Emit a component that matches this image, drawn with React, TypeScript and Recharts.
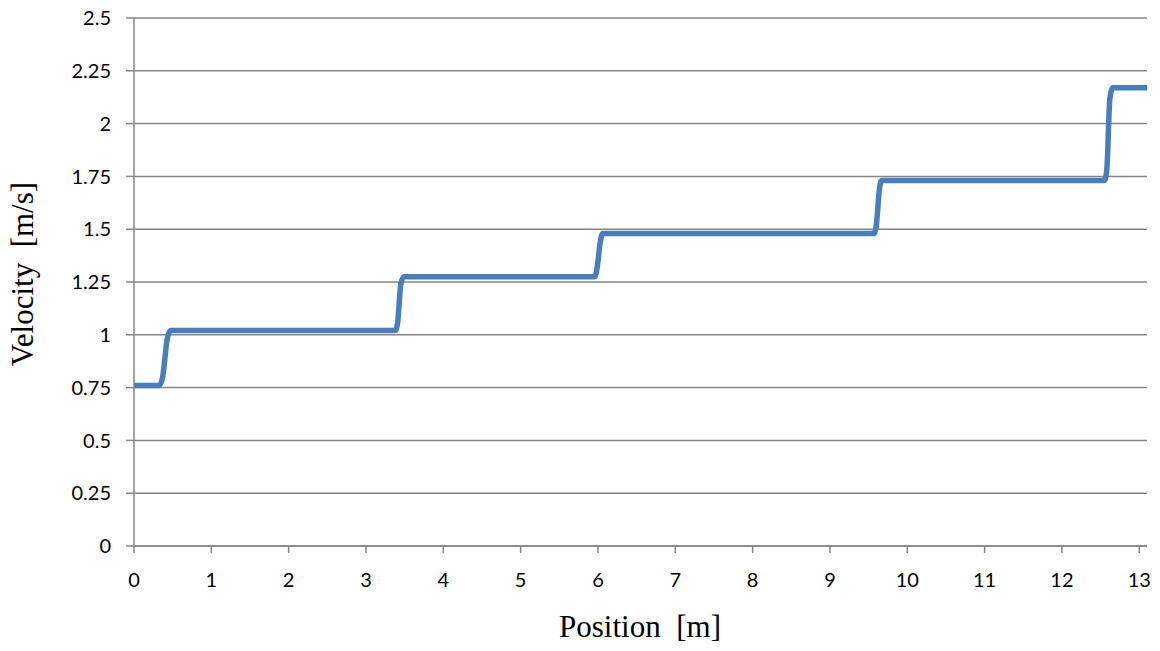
import { LineChart, Line, XAxis, YAxis, CartesianGrid } from "recharts";

const positions = [
  0, 0.33, 0.37, 0.43, 0.47,
  3.38, 3.41, 3.45, 3.49,
  5.96, 5.99, 6.03, 6.06,
  9.57, 9.6, 9.64, 9.67,
  12.55, 12.58, 12.62, 12.66, 13.1,
];
const velocities = [
  0.76, 0.76, 0.8, 0.98, 1.02,
  1.02, 1.06, 1.24, 1.275,
  1.275, 1.32, 1.44, 1.48,
  1.48, 1.52, 1.69, 1.73,
  1.73, 1.78, 2.12, 2.17, 2.17,
];
const xTicks = [0, 1, 2, 3, 4, 5, 6, 7, 8, 9, 10, 11, 12, 13];
const yTicks = [0, 0.25, 0.5, 0.75, 1, 1.25, 1.5, 1.75, 2, 2.25, 2.5];

const data = positions.map((x, i) => ({ x, v: velocities[i] }));

const BLUE = "#4A7EBB";
const GREY = "#868686";
const TICK_FONT = { fill: "#000", fontSize: 20, fontFamily: "Lato, 'Open Sans', sans-serif" };
const TITLE_FONT = "'Liberation Serif', 'Times New Roman', serif";

export default function App() {
  return (
    <div style={{ position: "absolute", left: 0, top: 0, background: "#fff" }}>
      <LineChart
        width={1160}
        height={651}
        data={data}
        margin={{ top: 18, right: 13, bottom: 0, left: 0 }}
      >
        <CartesianGrid stroke={GREY} strokeWidth={1.5} vertical={false} />
        <XAxis
          dataKey="x"
          type="number"
          domain={[0, 13.1]}
          ticks={xTicks}
          allowDataOverflow
          height={105}
          tick={TICK_FONT}
          tickSize={7}
          tickMargin={20}
          stroke={GREY}
          strokeWidth={1.5}
          label={{
            content: () => (
              <text
                x={640}
                y={637}
                textAnchor="middle"
                fontFamily={TITLE_FONT}
                fontSize={31}
                fill="#000"
                style={{ whiteSpace: "pre" }}
              >
                {"Position  [m]"}
              </text>
            ),
          }}
        />
        <YAxis
          type="number"
          domain={[0, 2.5]}
          ticks={yTicks}
          width={134}
          tick={TICK_FONT}
          tickSize={8}
          tickMargin={15}
          stroke={GREY}
          strokeWidth={1.5}
          label={{
            content: () => (
              <text
                x={33}
                y={274}
                transform="rotate(-90 33 274)"
                textAnchor="middle"
                fontFamily={TITLE_FONT}
                fontSize={31}
                fill="#000"
                style={{ whiteSpace: "pre" }}
              >
                {"Velocity  [m/s]"}
              </text>
            ),
          }}
        />
        <Line
          dataKey="v"
          type="monotone"
          stroke={BLUE}
          strokeWidth={5.5}
          strokeLinecap="round"
          dot={false}
          isAnimationActive={false}
        />
      </LineChart>
    </div>
  );
}
